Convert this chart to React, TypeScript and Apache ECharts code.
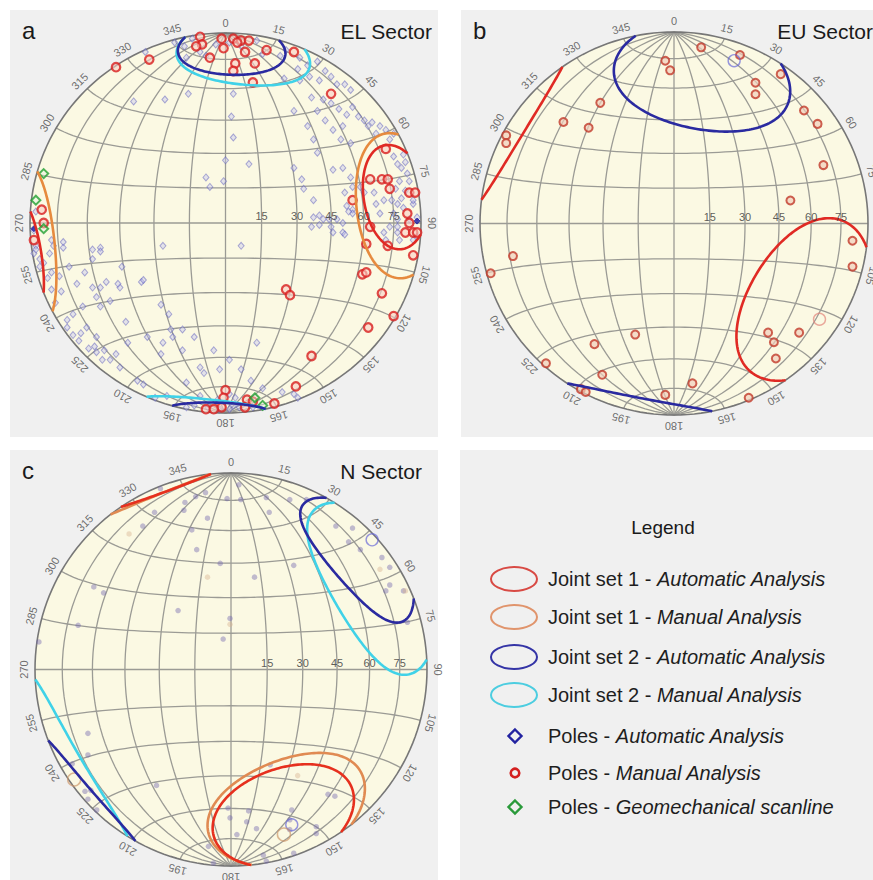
import React, { useEffect, useRef } from "react";
import * as echarts from "echarts";

// ---------- tick labels ----------
const azimuthLabels = ["0","15","30","45","60","75","90","105","120","135","150","165","180","195","210","225","240","255","270","285","300","315","330","345"];
const dipLabels = ["15","30","45","60","75"];
const netStepDeg = 15;

// ---------- poles: [east, north] in % of net radius (equal-area, lower hemisphere) ----------
const elAutoPoles = [
  [-17,97],[-21,93],[-13,90],[-5,94],[2,95],[8,93],[16,96],[19,89],[28,88],[31,91],[38,87],[37,81],[42,83],[47,85],[51,80],[43,77],[48,75],[54,77],[57,73],[61,73],[64,70],[38,75],[30,76],[-26,95],[-41,90],[-20,87],[-10,88],
  [-47,64],[-31,65],[-19,68],[4,68],[44,66],[50,65],[54,63],[58,60],[62,57],[65,61],[68,56],[71,54],[73,51],[75,53],[77,47],[79,51],[82,49],[84,44],[86,47],[60,51],[55,49],[51,54],[47,59],[35,59],[42,51],[45,44],[59,44],[64,42],[3,56],[4,45],[0,33],[12,31],[35,29],[39,23],[47,37],[55,28],[60,29],[64,24],[65,19],[69,19],[71,16],[61,16],[62,9],[65,7],[57,2],[54,-2],[50,2],[45,3],[48,-1],[55,-5],[-10,24],[-8,19],[-1,22],[-32,-12],[8,-12],[60,-5],[65,5],[40,18],[45,12],[48,4],[44,-2],[53,2],[60,0],[61,-6],[63,6],
  [86,35],[88,31],[90,29],[91,36],[92,32],[93,26],[94,22],[89,22],[87,18],[85,12],[88,10],[90,13],[92,17],[96,10],[86,5],[88,2],[91,8],[84,-2],[81,-5],[82,-9],[88,-5],[89,-9],[96,-9],[98,3],[79,5],[77,10],[81,12],[76,16],[96,12],[94,2],[88,-2],[98,-7],
  [-98,-16],[-97,-12],[-95,-19],[-95,-23],[-93,-21],[-90,-16],[-89,-9],[-88,-12],[-91,-29],[-89,-26],[-85,-28],[-84,-36],[-89,-35],[-87,-42],[-83,-13],[-80,-23],[-76,-32],[-72,-26],[-68,-34],[-64,-34],[-61,-31],[-54,-34],[-55,-32],[-43,-31],[-42,-30],[-68,-14],[-64,-13],[-66,-39],[-59,-41],[-64,-44],[-73,-44],[-78,-48],[-81,-51],[-81,-55],[-78,-59],[-75,-62],[-74,-58],[-71,-55],[-66,-60],[-62,-67],[-59,-72],[-54,-76],[-56,-69],[-50,-63],[-67,-65],[-70,-66],[-66,-68],[-63,-72],[-51,-52],[-33,-43],[-29,-48],[-28,-56],[-27,-60],[-40,-60],[-33,-69],[-32,-63],[-22,-67],[-16,-60],[-22,-56],[-42,-85],[-45,-83],[-13,-76],[-11,-79],[-3,-77],[2,-72],[8,-77],[13,-83],[16,-63],[-6,-67],
  [-97,6],[-98,-4],[-97,-14],[-83,-10],[-64,-15],[-68,-19],[-53,-23],
  [-36,-92],[-30,-91],[-20,-97],[-16,-96],[-9,-97],[-3,-98],[2,-98],[7,-97],[14,-97],[4,-96],[-20,-84],[-13,-91],[-4,-93],[2,-90],[5,-92],[19,-87],[29,-89],[35,-90],[37,-92]
];
const elAutoStrongPoles = [[98,1],[-98,-3]];
const elManualPoles = [
  [-13,98],[-2,97],[4,97],[8,96],[12,96],[-12,94],[-15,93],[-1,92],[6,95],[10,90],[21,91],[35,90],[-8,87],[5,84],[15,84],[4,80],[14,74],[-56,82],[-39,86],[54,68],
  [82,39],[74,23],[80,23],[83,23],[84,18],[94,16],[97,16],[65,12],[74,-2],[72,-11],[83,-12],[93,5],[94,0],[92,-5],[96,-5],[98,-5],[96,-17],[70,-27],[72,-26],[80,-37],[86,-49],[73,-55],[31,-35],[33,-38],[44,-70],
  [0,-88],[-1,-92],[-2,-97],[11,-93],[14,-94],[36,-86],[25,-95],[-10,-98],[-6,-98],[10,-97],
  [-94,7],[-93,0],[-98,-9]
];
const elScanlinePoles = [[-93,26],[-97,12],[-93,-3],[15,-92],[19,-96]];

const euManualPoles = [
  [14,92],[-4.5,85],[-2,80],[34,88],[55,78],[42,73.5],[42,67.5],[67,59],[74,52],[77,30.5],[60,12],[92,-9],[92,-22.5],[-38,63],[-57,53],[-44,50],[-86.5,46],[-86.5,42],[-83,-17],[-94.5,-26],[-20,-58],[-41,-63],[-66,-73],[-37,-79],[-48,-86.5],[-45.5,-88],[-4.5,-89.5],[9.5,-83.5],[38.5,-91],[48.5,-57],[51.5,-62],[64.5,-57],[52.5,-70.5]
];
const euMeanAuto = [[31,85]];
const euMeanManual = [[75,-50]];

const nAutoPoles = [
  [-13,90],[-18,88],[-23.5,85],[-39,80],[-45,73],[-24,81],[-12,77],[-20,71],[-17.5,61],[-5.5,54],[-36,92],[-2,87],[5,86.5],[4,94],[18,87.5],[19.5,80],[30,86.5],[38.5,86.5],[12,47],[32,53],[-70,42],[-65,39],[-78,22.5],[-27,30],[-0.5,26],[-4,15.5],[-98,14],[53.5,73],[62,72],[60,65],[66,61],[77,57],[81,52],[81,43],[79,40],[88,40],[90,24],
  [-73,-32.5],[-73,-43.5],[-81,-48],[-74.5,-62],[-71.5,-61.5],[-73,-66],[-68.5,-71.5],[-38,-59],[-1.5,-70.5],[-0.5,-75.5],[9,-72],[8,-77.5],[13,-81],[3,-84],[20,-48.5],[49.5,-63.5],[53,-64.5],[31,-71.5],[30,-76.5],[30,-81.5],[43.5,-80],[43.5,-83.5],[32,-93.5],[16.5,-94.5],[18,-97.5],[-9,-98.5],[-11.5,-90]
];
const nManualPoles = [[-52,69],[-12,47],[-0.5,23],[34,-54],[76,51],[89,40]];
const nMeanAuto = [[72,66],[31,-79]];
const nMeanManual = [[27,-84],[-80,-56]];

// ---------- joint-set cones: [trend°, plunge°, radial half-angle°, tangential half-angle°] ----------
const elSet1Auto = [81, 12, 17, 17.5];
const elSet1Manual = [84, 10, 23, 24];
const elSet2Auto = [2, 8.5, 14.5, 17];
const elSet2Manual = [6, 10, 17.5, 21.5];
const euSet1Auto = [121, 19.3, 29.3, 31];
const euSet2Auto = [11, 20, 28, 31];
const nSet1Auto = [160, 20, 24, 25];
const nSet1Manual = [158, 21.5, 25.5, 28.5];
const nSet2Auto = [49, 11, 17.5, 25];
const nSet2Manual = [59.5, 12.5, 24.5, 31.5];

// ---------- projection helpers ----------
const DEG = Math.PI / 180;
function toNet(n: number, e: number, d: number): number[] {
  if (d < 0) { n = -n; e = -e; d = -d; }
  const len = Math.sqrt(n * n + e * e + d * d);
  n /= len; e /= len; d /= len;
  const h = Math.sqrt(n * n + e * e);
  if (h < 1e-12) return [0, 0];
  const theta = Math.acos(Math.min(1, d));
  const r = 100 * Math.SQRT2 * Math.sin(theta / 2);
  return [(r * e) / h, (r * n) / h];
}
function showVec(v: number[], side: number) {
  return side > 0 ? toNet(v[0], v[1], v[2]) : toNet(-v[0], -v[1], -v[2]);
}
function conePath(c: number[]): number[][][] {
  const [T, P, ar, at] = c;
  const cT = Math.cos(T * DEG), sT = Math.sin(T * DEG), cP = Math.cos(P * DEG), sP = Math.sin(P * DEG);
  const a = [cP * cT, cP * sT, sP], u = [-sT, cT, 0], w = [-sP * cT, -sP * sT, cP];
  const ka = Math.tan(ar * DEG), kt = Math.tan(at * DEG);
  const vec = (t: number) => {
    const cc = Math.cos(t * DEG), ss = Math.sin(t * DEG);
    return [0, 1, 2].map((k) => a[k] + ka * cc * w[k] + kt * ss * u[k]);
  };
  const segs: { side: number; pts: number[][] }[] = [];
  let prev = vec(0);
  let prevSide = prev[2] >= 0 ? 1 : -1;
  let cur: number[][] = [showVec(prev, prevSide)];
  for (let t = 2; t <= 360; t += 2) {
    const v = vec(t);
    const side = v[2] >= 0 ? 1 : -1;
    if (side !== prevSide) {
      const f = prev[2] / (prev[2] - v[2]);
      const q = [0, 1, 2].map((k) => prev[k] + f * (v[k] - prev[k]));
      q[2] = 0;
      cur.push(showVec(q, prevSide));
      segs.push({ side: prevSide, pts: cur });
      cur = [showVec(q, side), showVec(v, side)];
      prevSide = side;
    } else {
      cur.push(showVec(v, side));
    }
    prev = v;
  }
  segs.push({ side: prevSide, pts: cur });
  if (segs.length > 1 && segs[0].side === segs[segs.length - 1].side) {
    const last = segs.pop()!;
    segs[0].pts = last.pts.concat(segs[0].pts.slice(1));
  }
  return segs.map((s) => s.pts);
}
function buildNet(step: number): number[][][] {
  const lines: number[][][] = [];
  for (let dip = step; dip < 90; dip += step) {
    for (const sg of [1, -1]) {
      const pts: number[][] = [];
      for (let b = 0; b <= 180; b += 3) {
        const cb = Math.cos(b * DEG), sb = Math.sin(b * DEG);
        pts.push(toNet(cb, sg * sb * Math.cos(dip * DEG), Math.abs(sb * Math.sin(dip * DEG))));
      }
      lines.push(pts);
    }
  }
  lines.push([[0, 100], [0, -100]]);
  for (let g = step; g < 180; g += step) {
    if (g === 90) continue;
    const pts: number[][] = [];
    for (let t = 0; t <= 180; t += 3) {
      const ct = Math.cos(t * DEG), st = Math.sin(t * DEG);
      pts.push(toNet(Math.cos(g * DEG), Math.sin(g * DEG) * ct, Math.abs(Math.sin(g * DEG) * st)));
    }
    lines.push(pts);
  }
  lines.push([[-100, 0], [100, 0]]);
  return lines;
}
const primitive: number[][] = [];
for (let az = 0; az <= 360; az += 2) primitive.push([100 * Math.sin(az * DEG), 100 * Math.cos(az * DEG)]);
const netLines = buildNet(netStepDeg);

const FONT = "Liberation Sans, Arial, Helvetica, sans-serif";
const RED = "#e02a24", ORANGE = "#e68a3e", NAVY = "#2a2aa0", CYAN = "#40d2e8";

const blueDiamond = { symbol: "diamond", symbolSize: [6, 7], itemStyle: { color: "rgba(195,195,238,0.55)", borderColor: "rgba(85,85,185,0.6)", borderWidth: 1 } };
const redRing = { symbol: "circle", symbolSize: 8.5, itemStyle: { color: "rgba(250,205,195,0.75)", borderColor: "#d81e1e", borderWidth: 2.2 } };
const redRingB = { symbol: "circle", symbolSize: 8, itemStyle: { color: "rgba(240,205,185,0.85)", borderColor: "#c23a2a", borderWidth: 2 } };
const greenDiamond = { symbol: "diamond", symbolSize: 9, itemStyle: { color: "rgba(225,245,225,0.5)", borderColor: "#22a032", borderWidth: 2 } };
const navyDot = { symbol: "diamond", symbolSize: 6, itemStyle: { color: "#1e1ea0", borderColor: "#1e1ea0", borderWidth: 1 } };
const purpleDot = { symbol: "circle", symbolSize: 5.5, itemStyle: { color: "rgba(115,105,175,0.55)", borderWidth: 0 } };
const tanDot = { symbol: "circle", symbolSize: 5.5, itemStyle: { color: "rgba(215,175,140,0.5)", borderWidth: 0 } };
const blueBigRing = { symbol: "circle", symbolSize: 12, itemStyle: { color: "rgba(255,255,255,0)", borderColor: "rgba(100,100,215,0.85)", borderWidth: 1.4 } };
const pinkBigRing = { symbol: "circle", symbolSize: 12, itemStyle: { color: "rgba(255,255,255,0)", borderColor: "rgba(225,130,120,0.85)", borderWidth: 1.4 } };
const tanBigRing = { symbol: "circle", symbolSize: 13, itemStyle: { color: "rgba(255,255,255,0)", borderColor: "rgba(205,150,105,0.85)", borderWidth: 1.5 } };

const panels = [
  {
    poles: [{ data: elAutoPoles, st: blueDiamond }, { data: elAutoStrongPoles, st: navyDot }, { data: elManualPoles, st: redRing }, { data: elScanlinePoles, st: greenDiamond }],
    cones: [{ c: elSet2Manual, color: CYAN }, { c: elSet2Auto, color: NAVY }, { c: elSet1Manual, color: ORANGE }, { c: elSet1Auto, color: RED }],
  },
  {
    poles: [{ data: euManualPoles, st: redRingB }, { data: euMeanAuto, st: blueBigRing }, { data: euMeanManual, st: pinkBigRing }],
    cones: [{ c: euSet2Auto, color: NAVY }, { c: euSet1Auto, color: RED }],
  },
  {
    poles: [{ data: nAutoPoles, st: purpleDot }, { data: nManualPoles, st: tanDot }, { data: nMeanAuto, st: blueBigRing }, { data: nMeanManual, st: tanBigRing }],
    cones: [{ c: nSet2Manual, color: CYAN }, { c: nSet2Auto, color: NAVY }, { c: nSet1Manual, color: "#e08a52" }, { c: nSet1Auto, color: "#e6301e" }],
  },
];

function buildOption() {
  const series: any[] = [];
  panels.forEach((p, gi) => {
    series.push({
      type: "custom", xAxisIndex: gi, yAxisIndex: gi, z: 1, silent: true, clip: false,
      data: [[0, 0]],
      renderItem: (_params: any, api: any) => {
        const c = (pt: number[]) => api.coord(pt);
        const children: any[] = [
          { type: "polygon", shape: { points: primitive.map(c) }, style: { fill: "#fbf9e3", stroke: "none" } },
        ];
        netLines.forEach((ln) => children.push({ type: "polyline", shape: { points: ln.map(c) }, style: { stroke: "#9b9b95", lineWidth: 1.3, fill: "none" } }));
        children.push({ type: "polyline", shape: { points: primitive.map(c) }, style: { stroke: "#777777", lineWidth: 1.6, fill: "none" } });
        return { type: "group", children };
      },
    });
    p.poles.forEach((ps) => {
      series.push({ type: "scatter", xAxisIndex: gi, yAxisIndex: gi, z: 3, silent: true, clip: false, data: ps.data, ...ps.st });
    });
    const paths = p.cones.map((k) => conePath(k.c));
    series.push({
      type: "custom", xAxisIndex: gi, yAxisIndex: gi, z: 4, silent: true, clip: false,
      data: p.cones.map(() => [0, 0]),
      renderItem: (params: any, api: any) => {
        const idx = params.dataIndex;
        const color = p.cones[idx].color;
        return {
          type: "group",
          children: paths[idx].map((seg) => ({
            type: "polyline",
            shape: { points: seg.map((pt) => api.coord(pt)) },
            style: { stroke: color, lineWidth: 2.6, fill: "none" },
          })),
        };
      },
    });
    series.push({
      type: "scatter", xAxisIndex: gi, yAxisIndex: gi, z: 6, silent: true, clip: false, symbolSize: 1,
      itemStyle: { color: "rgba(0,0,0,0)" },
      labelLayout: { hideOverlap: false },
      label: { show: true, position: "inside", formatter: "{b}", color: "#4a4a4a", fontSize: 11, fontFamily: FONT },
      data: azimuthLabels.map((lab) => {
        const az = Number(lab);
        return { name: lab, value: [105.5 * Math.sin(az * DEG), 105.5 * Math.cos(az * DEG)], label: { rotate: -az } };
      }),
    });
    series.push({
      type: "scatter", xAxisIndex: gi, yAxisIndex: gi, z: 6, silent: true, clip: false, symbolSize: 1,
      itemStyle: { color: "rgba(0,0,0,0)" },
      label: { show: true, position: "top", distance: 1, formatter: "{b}", color: "#333", fontSize: 11, fontFamily: FONT },
      data: dipLabels.map((lab) => ({ name: lab, value: [100 * Math.SQRT2 * Math.sin((Number(lab) / 2) * DEG), 0] })),
    });
  });

  const grids = [
    { left: 30, top: 33, width: 391, height: 380 },
    { left: 480, top: 32, width: 388, height: 383 },
    { left: 35, top: 473, width: 392, height: 393 },
  ];
  const txt = (text: string, x: number, y: number, size: number, align = "left", extra: any = {}) => ({
    type: "text", x, y, z: 100, silent: true,
    style: { text, fill: "#1a1a1a", fontSize: size, fontFamily: FONT, align, verticalAlign: "middle", ...extra },
  });
  const legendRow = (set: string, method: string, y: number) => ({
    type: "text", x: 548, y, z: 100, silent: true,
    style: {
      text: `{n|${set} - }{i|${method}}`, verticalAlign: "middle", align: "left",
      rich: {
        n: { fontSize: 20, fontFamily: FONT, fill: "#1e1e1e" },
        i: { fontSize: 20, fontFamily: FONT, fill: "#1e1e1e", fontStyle: "italic" },
      },
    },
  });
  const ell = (cy: number, color: string) => ({
    type: "ellipse", z: 100, silent: true, shape: { cx: 514, cy, rx: 23, ry: 12 }, style: { fill: "none", stroke: color, lineWidth: 2 },
  });
  const diamond = (cy: number, color: string) => ({
    type: "polygon", z: 100, silent: true, shape: { points: [[515, cy - 6.5], [521.5, cy], [515, cy + 6.5], [508.5, cy]] }, style: { fill: "none", stroke: color, lineWidth: 2.4 },
  });
  const graphic: any[] = [
    { type: "rect", z: -10, silent: true, shape: { x: 10, y: 10, width: 428, height: 427 }, style: { fill: "#f0f0f0" } },
    { type: "rect", z: -10, silent: true, shape: { x: 461, y: 10, width: 412, height: 427 }, style: { fill: "#f0f0f0" } },
    { type: "rect", z: -10, silent: true, shape: { x: 10, y: 450, width: 428, height: 430 }, style: { fill: "#f0f0f0" } },
    { type: "rect", z: -10, silent: true, shape: { x: 460, y: 450, width: 413, height: 430 }, style: { fill: "#f0f0f0" } },
    txt("a", 22, 30, 24),
    txt("EL Sector", 432, 31, 21, "right"),
    txt("b", 473, 30, 24),
    txt("EU Sector", 873, 31, 21, "right"),
    txt("c", 22, 470, 24),
    txt("N Sector", 422, 471, 21, "right"),
    txt("Legend", 663, 527, 19, "center"),
    ell(579, "#d84a44"), legendRow("Joint set 1", "Automatic Analysis", 579),
    ell(617, "#e0946c"), legendRow("Joint set 1", "Manual Analysis", 617),
    ell(657, "#3434a6"), legendRow("Joint set 2", "Automatic Analysis", 657),
    ell(695, "#4ccde0"), legendRow("Joint set 2", "Manual Analysis", 695),
    diamond(736, "#2222a0"), legendRow("Poles", "Automatic Analysis", 736),
    { type: "circle", z: 100, silent: true, shape: { cx: 515, cy: 773, r: 4.3 }, style: { fill: "none", stroke: "#d42020", lineWidth: 2.6 } },
    legendRow("Poles", "Manual Analysis", 773),
    diamond(807, "#2a9a3a"), legendRow("Poles", "Geomechanical scanline", 807),
  ];

  return {
    animation: false,
    backgroundColor: "#ffffff",
    grid: grids,
    xAxis: grids.map((_, i) => ({ gridIndex: i, type: "value", min: -100, max: 100, show: false })),
    yAxis: grids.map((_, i) => ({ gridIndex: i, type: "value", min: -100, max: 100, show: false })),
    graphic,
    series,
  };
}

export default function App() {
  const ref = useRef<HTMLDivElement>(null);
  useEffect(() => {
    document.body.style.margin = "0";
    const chart = echarts.init(ref.current!, null, { renderer: "svg" });
    chart.setOption(buildOption() as any);
    return () => chart.dispose();
  }, []);
  return <div ref={ref} style={{ width: 873, height: 880 }} />;
}
